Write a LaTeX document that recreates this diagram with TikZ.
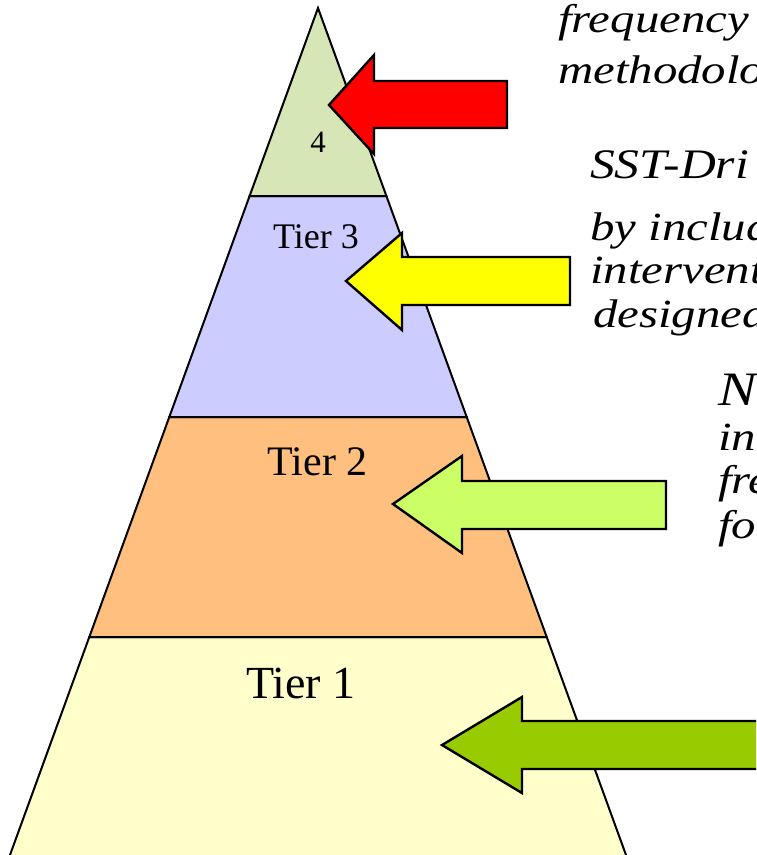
\documentclass[tikz,border=0pt]{standalone}
\usepackage{fontspec}
\setmainfont{Liberation Serif}
\tikzset{
  tierline/.style={draw=black, line width=2pt, line join=miter},
  blockarrow/.style={draw=black, line width=2.4pt, line join=miter},
  tierlabel/.style={inner sep=0pt, anchor=base},
  note/.style={inner sep=0pt, anchor=base west, font=\fontsize{40}{44}\selectfont\itshape},
  bignote/.style={inner sep=0pt, anchor=base west, font=\fontsize{42}{46}\selectfont\itshape},
  hugenote/.style={inner sep=0pt, anchor=base west, font=\fontsize{48}{52}\selectfont\itshape}
}
\definecolor{tierfour}{HTML}{D6E6B6}
\definecolor{tierthree}{HTML}{CCCCFF}
\definecolor{tiertwo}{HTML}{FFBF7F}
\definecolor{tierone}{HTML}{FFFFCC}
\definecolor{arrowred}{HTML}{FF0000}
\definecolor{arrowyellow}{HTML}{FFFF00}
\definecolor{arrowlime}{HTML}{CCFF66}
\definecolor{arrowgreen}{HTML}{99CC00}
\begin{document}
\begin{tikzpicture}[x=1pt,y=-1pt]
\useasboundingbox (0,0) rectangle (756,855);
\clip (0,0) rectangle (756,855);

% pyramid corners (edges run from the apex with slope 0.3636)
\coordinate (apex) at (318,8);
\coordinate (l4) at (249.6,196); \coordinate (r4) at (386.4,196);
\coordinate (l3) at (169.3,417); \coordinate (r3) at (466.7,417);
\coordinate (l2) at (89.3,637);  \coordinate (r2) at (546.7,637);
\coordinate (l1) at (0.9,880);   \coordinate (r1) at (635.1,880);

% tiers, bottom to top
\path[tierline, fill=tierone]   (l2) -- (r2) -- (r1) -- (l1) -- cycle;
\path[tierline, fill=tiertwo]   (l3) -- (r3) -- (r2) -- (l2) -- cycle;
\path[tierline, fill=tierthree] (l4) -- (r4) -- (r3) -- (l3) -- cycle;
\path[tierline, fill=tierfour]  (apex) -- (r4) -- (l4) -- cycle;

% tier labels
\node[tierlabel, font=\fontsize{31}{35}\selectfont] (lab4) at (318,152) {4};
\node[tierlabel, font=\fontsize{36}{40}\selectfont] (lab3) at (316,248) {Tier 3};
\node[tierlabel, font=\fontsize{42}{46}\selectfont] (lab2) at (317.5,475) {Tier 2};
\node[tierlabel, font=\fontsize{46}{50}\selectfont] (lab1) at (301,698) {Tier 1};

% block arrows pointing into the tiers
\path[blockarrow, fill=arrowred]
  (329,105) -- (374,55) -- (374,81) -- (507,81) -- (507,128) -- (374,128) -- (374,154) -- cycle;
\path[blockarrow, fill=arrowyellow]
  (346,281) -- (402,233) -- (402,257) -- (570,257) -- (570,305) -- (402,305) -- (402,330) -- cycle;
\path[blockarrow, fill=arrowlime]
  (393,504) -- (462,456) -- (462,481) -- (666,481) -- (666,529) -- (462,529) -- (462,553) -- cycle;
\path[blockarrow, fill=arrowgreen]
  (442,745) -- (522,697) -- (522,721) -- (790,721) -- (790,769) -- (522,769) -- (522,793) -- cycle;

% descriptive text running off the right edge
\node[note] (d1) at (558,32) {\scalebox{1.22}[1]{frequency a}};
\node[note] (d2) at (558,83) {\scalebox{1.22}[1]{methodolog}};
\node[bignote] (h3) at (590,178) {\scalebox{1.18}[1]{SST-Dri}};
\node[note] (d3) at (590,240) {\scalebox{1.22}[1]{by includ}};
\node[note] (d4) at (590,283) {\scalebox{1.22}[1]{interventi}};
\node[note] (d5) at (593,327) {\scalebox{1.22}[1]{designed}};
\node[hugenote] (h2) at (718,405) {\scalebox{1.2}[1]{N}};
\node[note] (d6) at (718,450) {\scalebox{1.22}[1]{inc}};
\node[note] (d7) at (718,493) {\scalebox{1.22}[1]{fre}};
\node[note] (d8) at (718,538) {\scalebox{1.22}[1]{for}};
\end{tikzpicture}
\end{document}
